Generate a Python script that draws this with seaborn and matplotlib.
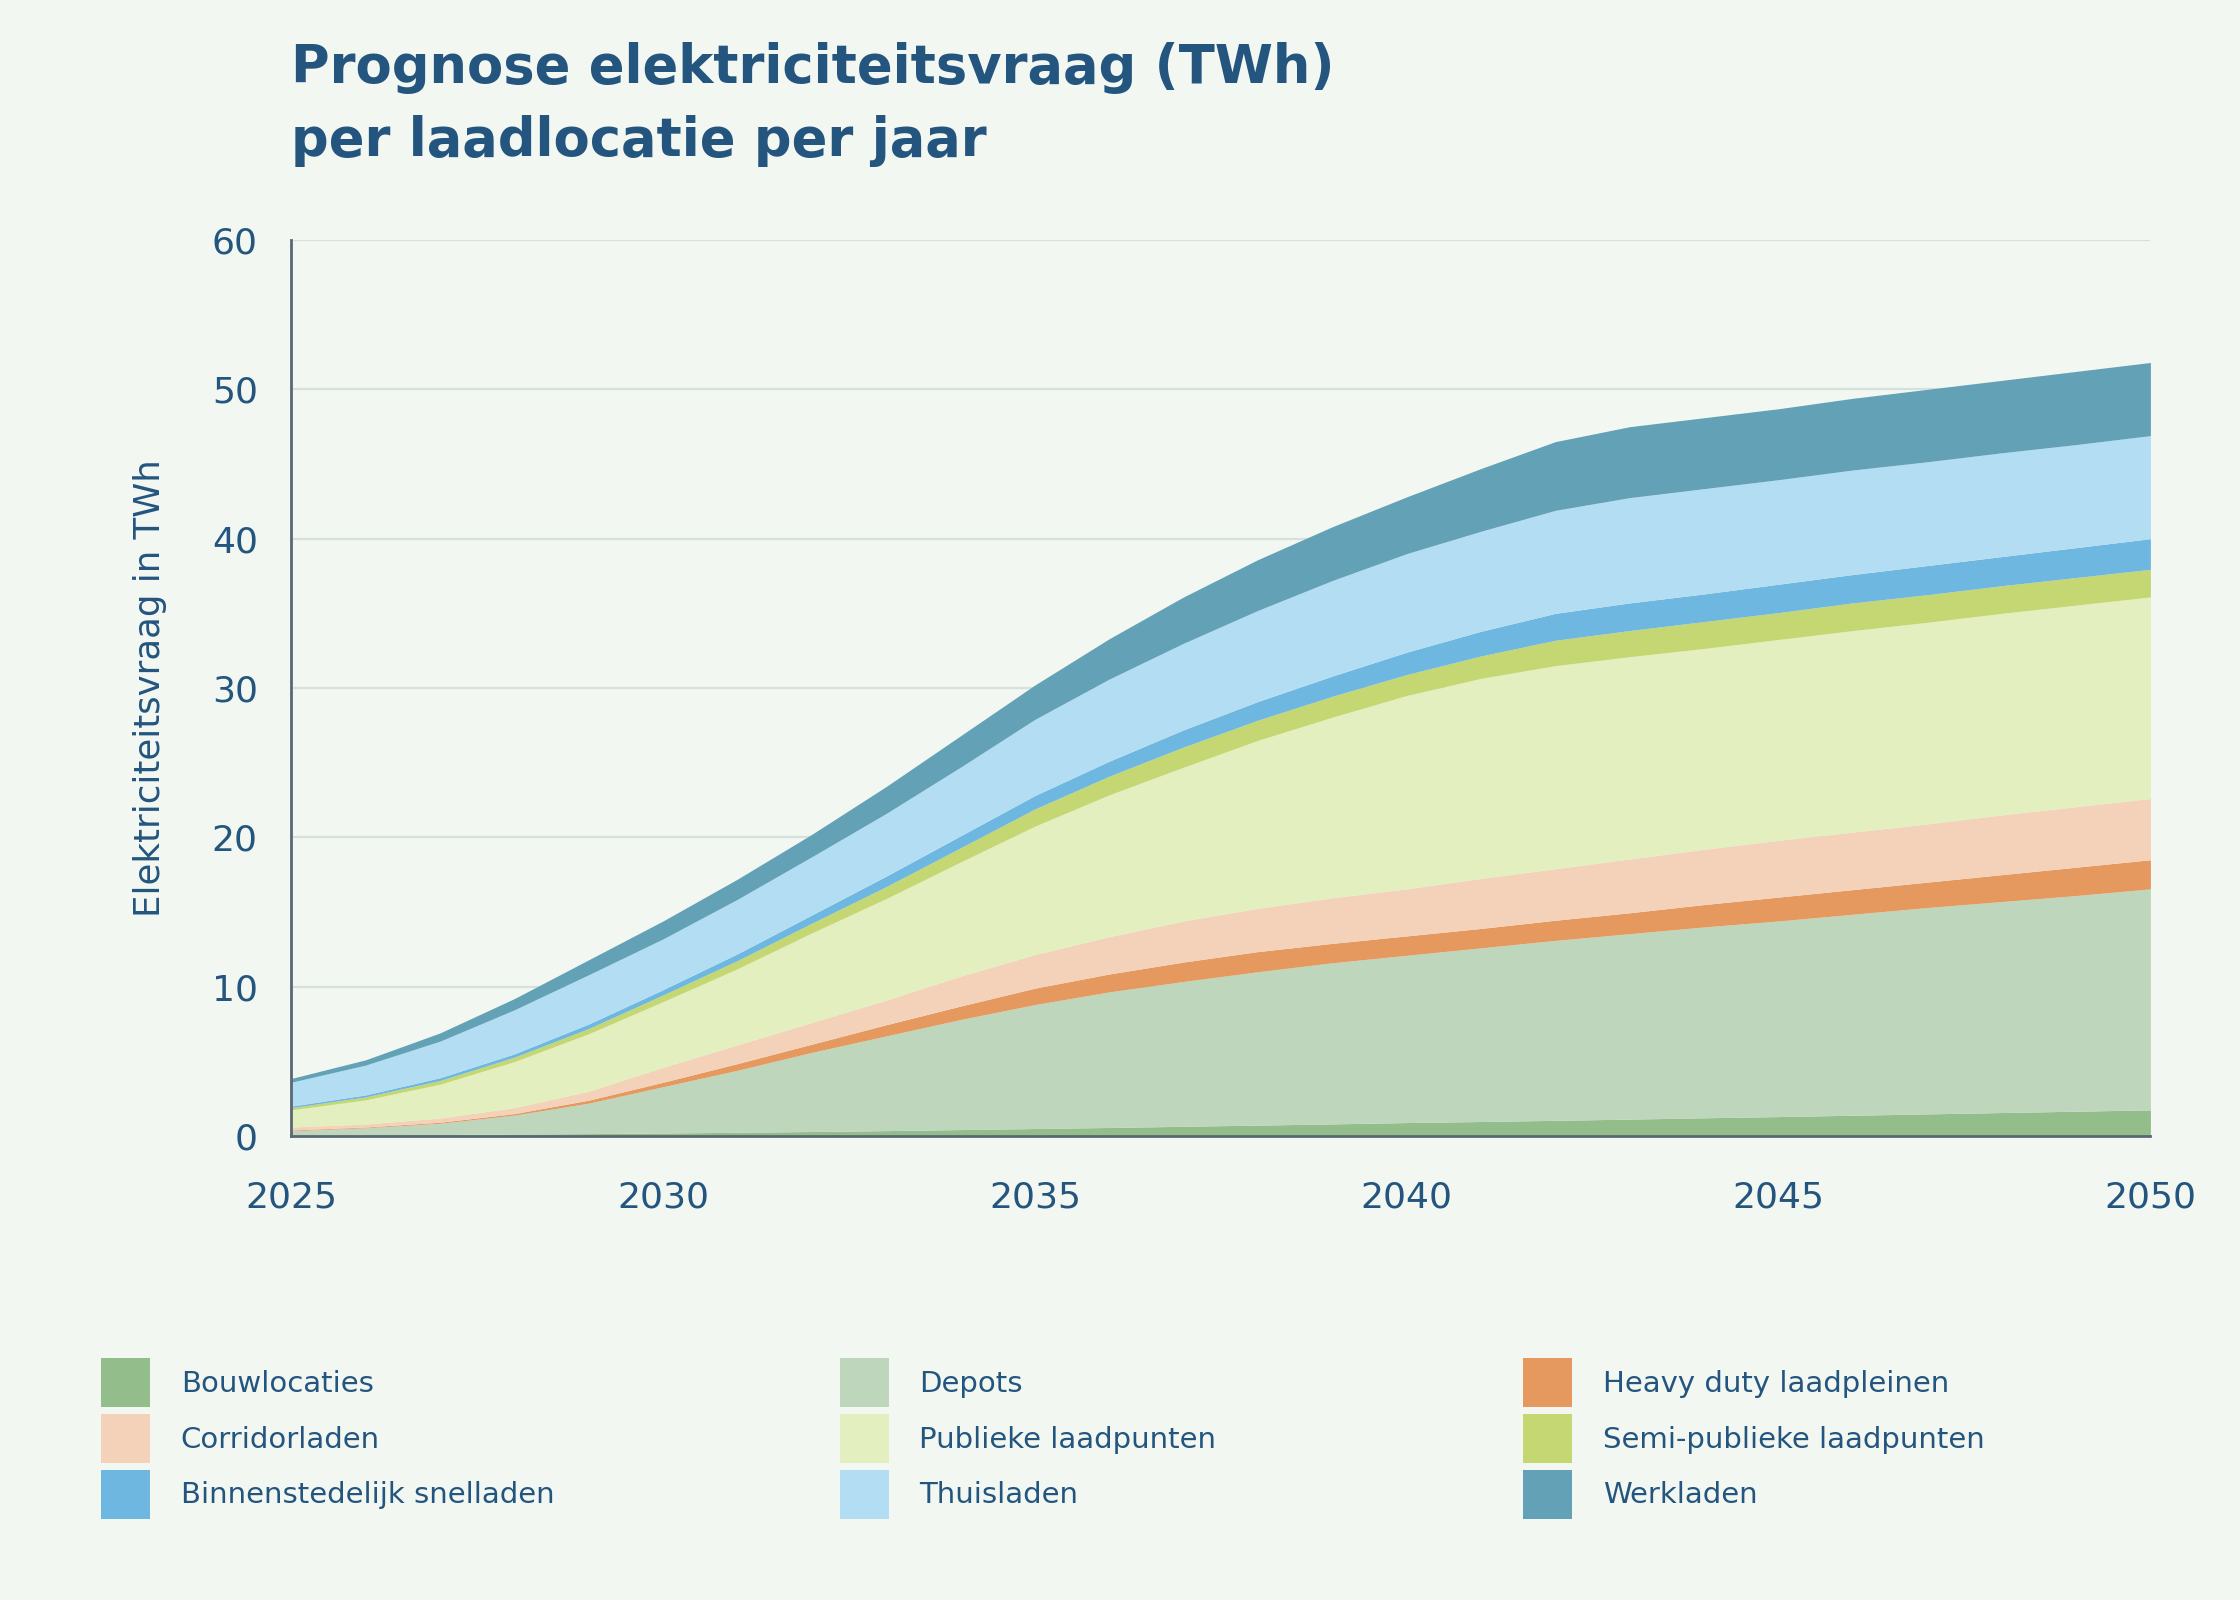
import numpy as np
import matplotlib
matplotlib.use("Agg")
import matplotlib.pyplot as plt
import seaborn as sns

# yearly values (TWh)
years = list(range(2025, 2051))

bouwlocaties = [0.05, 0.08, 0.10, 0.13, 0.16, 0.20, 0.25, 0.30, 0.36, 0.43, 0.50, 0.57, 0.65,
                0.73, 0.81, 0.90, 0.97, 1.05, 1.13, 1.22, 1.30, 1.39, 1.48, 1.57, 1.66, 1.75]
depots = [0.30, 0.47, 0.75, 1.27, 2.04, 3.10, 4.15, 5.30, 6.34, 7.37, 8.30, 9.08, 9.70,
          10.27, 10.79, 11.20, 11.63, 12.05, 12.42, 12.78, 13.10, 13.46, 13.82, 14.13, 14.44, 14.80]
heavy_duty = [0.05, 0.05, 0.07, 0.10, 0.20, 0.30, 0.45, 0.55, 0.75, 0.90, 1.10, 1.20, 1.30,
              1.35, 1.30, 1.30, 1.30, 1.35, 1.40, 1.50, 1.60, 1.65, 1.70, 1.80, 1.90, 1.95]
corridorladen = [0.20, 0.20, 0.28, 0.40, 0.60, 1.00, 1.25, 1.45, 1.65, 2.00, 2.25, 2.50, 2.75,
                 2.90, 3.05, 3.15, 3.35, 3.45, 3.60, 3.70, 3.80, 3.85, 3.90, 4.00, 4.05, 4.10]
publieke = [1.15, 1.62, 2.27, 3.08, 3.85, 4.40, 5.10, 6.00, 6.80, 7.65, 8.60, 9.50, 10.30,
            11.25, 12.10, 12.95, 13.40, 13.60, 13.55, 13.45, 13.45, 13.50, 13.50, 13.50, 13.50, 13.50]
semi_publieke = [0.15, 0.20, 0.25, 0.30, 0.35, 0.45, 0.55, 0.65, 0.80, 0.95, 1.15, 1.25, 1.35,
                 1.35, 1.40, 1.40, 1.50, 1.70, 1.75, 1.80, 1.80, 1.85, 1.85, 1.85, 1.85, 1.85]
binnenstedelijk = [0.10, 0.13, 0.18, 0.22, 0.30, 0.35, 0.45, 0.55, 0.70, 0.80, 0.90, 1.00, 1.15,
                   1.25, 1.35, 1.50, 1.65, 1.80, 1.85, 1.85, 1.90, 1.90, 1.95, 1.95, 2.00, 2.05]
thuisladen = [1.60, 2.00, 2.45, 2.95, 3.30, 3.40, 3.65, 3.90, 4.20, 4.60, 5.10, 5.50, 5.80,
              6.10, 6.40, 6.60, 6.70, 6.90, 7.05, 7.05, 7.00, 7.00, 6.95, 6.95, 6.90, 6.90]
werkladen = [0.25, 0.35, 0.55, 0.75, 1.00, 1.20, 1.35, 1.50, 1.80, 2.10, 2.30, 2.70, 3.10,
             3.40, 3.60, 3.80, 4.20, 4.60, 4.75, 4.75, 4.75, 4.80, 4.85, 4.85, 4.90, 4.90]

labels = ["Bouwlocaties", "Depots", "Heavy duty laadpleinen", "Corridorladen",
          "Publieke laadpunten", "Semi-publieke laadpunten", "Binnenstedelijk snelladen",
          "Thuisladen", "Werkladen"]
colors = ["#93bd8b", "#bed6bc", "#e6995f", "#f3d2b9", "#e4efc0",
          "#c5d772", "#6db7e1", "#b3ddf2", "#62a1b6"]

bg = "#f2f7f1"
txt = "#24557f"
axis_col = "#5b6873"

sns.set_theme(style="white", rc={"figure.facecolor": bg, "axes.facecolor": bg,
                                 "savefig.facecolor": bg})
plt.rcParams["font.family"] = ["DejaVu Sans"]

fig = plt.figure(figsize=(11.2, 8), dpi=200)
ax = fig.add_axes([0.130, 0.290, 0.830, 0.560])

series = [bouwlocaties, depots, heavy_duty, corridorladen, publieke,
          semi_publieke, binnenstedelijk, thuisladen, werkladen]
polys = ax.stackplot(years, *series, colors=sns.color_palette(colors), labels=labels,
                     linewidth=0, zorder=3)

ax.set_xlim(2025, 2050)
ax.set_ylim(0, 60)
ax.set_xticks([2025, 2030, 2035, 2040, 2045, 2050])
ax.set_yticks([0, 10, 20, 30, 40, 50, 60])
ax.grid(axis="y", color="#d6e0dc", linewidth=0.8, zorder=0)
ax.grid(axis="x", visible=False)

for s in ["top", "right"]:
    ax.spines[s].set_visible(False)
for s in ["left", "bottom"]:
    ax.spines[s].set_color(axis_col)
    ax.spines[s].set_linewidth(1.0)
    ax.spines[s].set_zorder(5)

ax.tick_params(axis="x", length=7, width=1.0, color=axis_col, pad=9,
               labelsize=13, labelcolor=txt, direction="out")
ax.tick_params(axis="y", length=0, pad=12, labelsize=13, labelcolor=txt)

ax.set_ylabel("Elektriciteitsvraag in TWh", fontsize=12.8, color=txt)
ax.yaxis.set_label_coords(-0.067, 0.5)

fig.text(0.130, 0.974, "Prognose elektriciteitsvraag (TWh)\nper laadlocatie per jaar",
         fontsize=19, fontweight="bold", color=txt, ha="left", va="top", linespacing=1.52)

# legend: one legend per column, rows read left to right
col_x = [0.0453, 0.375, 0.680]
for c in range(3):
    idx = [c, c + 3, c + 6]
    leg = fig.legend([polys[i] for i in idx], [labels[i] for i in idx],
                     loc="upper left", bbox_to_anchor=(col_x[c], 0.151),
                     frameon=False, fontsize=10.5, handlelength=1.67, handleheight=2.20,
                     handletextpad=1.05, labelspacing=0.233,
                     borderpad=0, borderaxespad=0)
    for t in leg.get_texts():
        t.set_color(txt)

fig.savefig("out.png", dpi=200)
